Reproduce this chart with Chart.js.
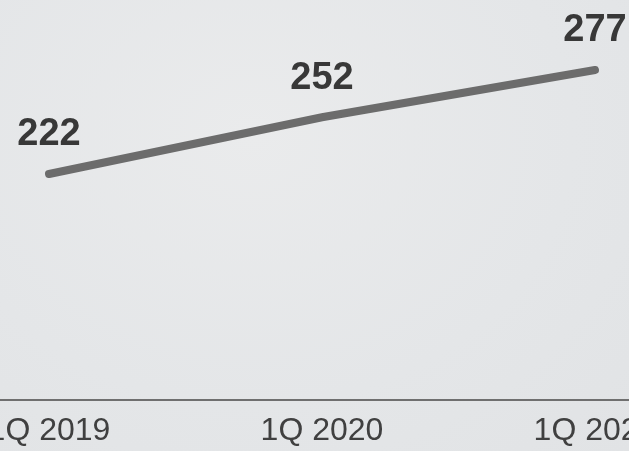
<!DOCTYPE html>
<html>
<head>
<meta charset="utf-8">
<script src="https://cdn.jsdelivr.net/npm/chart.js@4"></script>
<style>
  html, body { margin: 0; padding: 0; }
  body { width: 629px; height: 451px; overflow: hidden; background: #e4e6e8; background-image: radial-gradient(ellipse at 40% 30%, #eaebec 0%, #e4e6e8 60%, #e1e3e5 100%); }
  #wrap { position: relative; width: 629px; height: 451px; }
</style>
</head>
<body>
<div id="wrap"><canvas id="chart"></canvas></div>
<script>
const quarters = ['1Q 2019', '1Q 2020', '1Q 2021'];
const values = [222, 252, 277];

Chart.defaults.font.family = '"Liberation Sans", Arial, Helvetica, sans-serif';

// value labels above each point
const valueLabels = {
  id: 'valueLabels',
  afterDatasetsDraw(chart) {
    const ctx = chart.ctx;
    const meta = chart.getDatasetMeta(0);
    ctx.save();
    ctx.font = 'bold 38px "Liberation Sans", Arial, sans-serif';
    ctx.fillStyle = '#383838';
    ctx.textAlign = 'center';
    ctx.textBaseline = 'middle';
    meta.data.forEach((pt, i) => {
      ctx.fillText(String(values[i]), pt.x, pt.y - 39);
    });
    ctx.restore();
  }
};

// baseline across the full width
const baseline = {
  id: 'baseline',
  beforeDatasetsDraw(chart) {
    const ctx = chart.ctx;
    const y = chart.chartArea.bottom;
    ctx.save();
    ctx.strokeStyle = '#6f6f6f';
    ctx.lineWidth = 2;
    ctx.beginPath();
    ctx.moveTo(0, y);
    ctx.lineTo(chart.width, y);
    ctx.stroke();
    ctx.restore();
  }
};

new Chart(document.getElementById('chart'), {
  type: 'line',
  data: {
    labels: quarters,
    datasets: [{
      data: values,
      borderColor: '#6c6c6c',
      borderWidth: 8,
      borderCapStyle: 'round',
      pointRadius: 0,
      tension: 0,
      clip: false
    }]
  },
  options: {
    responsive: true,
    maintainAspectRatio: false,
    animation: false,
    layout: { padding: { left: 49, right: 34, top: 0, bottom: 0 } },
    plugins: { legend: { display: false }, tooltip: { enabled: false } },
    scales: {
      x: {
        grid: { display: false, drawTicks: false },
        border: { display: false },
        ticks: { color: '#404040', font: { size: 32 }, padding: 12, maxRotation: 0, autoSkip: false },
        afterFit(scale) { scale.paddingLeft = 0; scale.paddingRight = 0; scale.height = 51; }
      },
      y: {
        display: false,
        min: 102.5,
        max: 314
      }
    }
  },
  plugins: [baseline, valueLabels]
});
</script>
</body>
</html>
